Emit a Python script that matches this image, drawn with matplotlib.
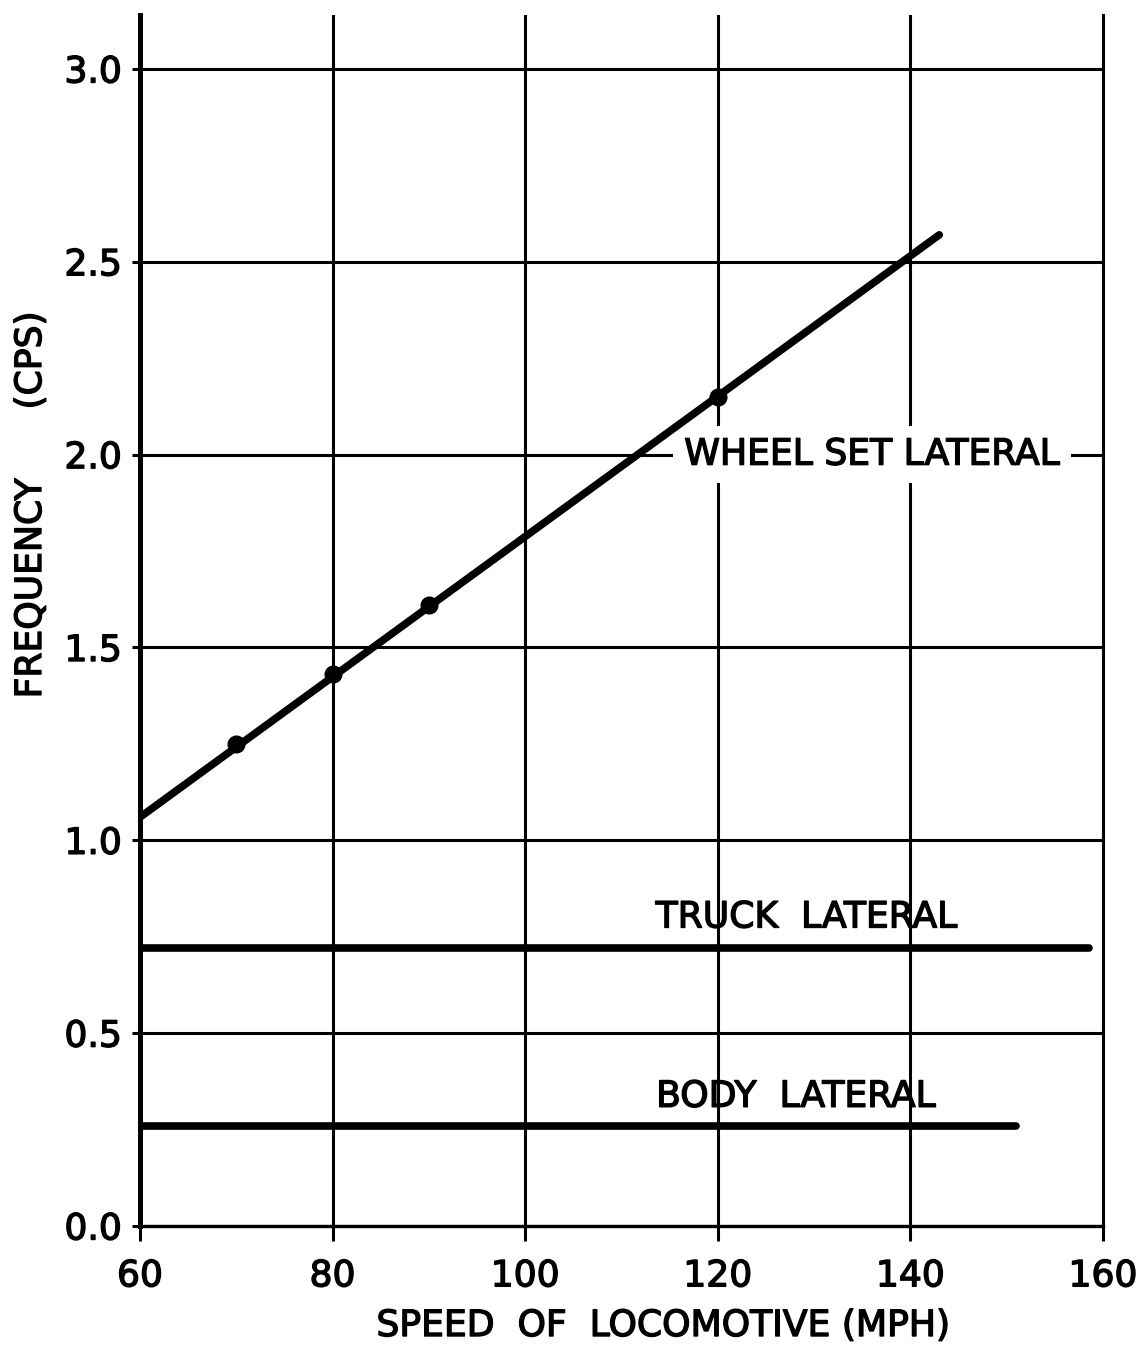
import matplotlib.pyplot as plt
import matplotlib.patheffects as pe
import numpy as np


# measured points on the wheel set lateral curve
SPEED_PTS = [70, 80, 90, 120]
FREQ_PTS = [1.25, 1.43, 1.61, 2.15]

# fitted straight line through them
WHEEL_X = [60, 143]
WHEEL_Y = [1.06, 2.57]

# flat modes
TRUCK_X = [60, 158.5]
TRUCK_FREQ = 0.72
BODY_X = [60, 151]
BODY_FREQ = 0.26

X_TICKS = [60, 80, 100, 120, 140, 160]
Y_TICKS = [0.0, 0.5, 1.0, 1.5, 2.0, 2.5, 3.0]
Y_TICK_LABELS = ['0.0', '0.5', '1.0', '1.5', '2.0', '2.5', '3.0']

FONT = 'DejaVu Sans'
FS = 26
# slightly heavier strokes for the lettering
INK = [pe.withStroke(linewidth=1.0, foreground='black')]


def draw():
    plt.rcParams['font.family'] = FONT
    fig = plt.figure(figsize=(11.4, 13.47), dpi=100)
    ax = fig.add_axes([140 / 1140, 1 - 1226 / 1347, 963 / 1140, 1211 / 1347])

    ax.set_xlim(60, 160)
    ax.set_ylim(0, 3.14)

    ax.set_xticks(X_TICKS)
    ax.set_xticklabels([str(v) for v in X_TICKS])
    ax.set_yticks(Y_TICKS)
    ax.set_yticklabels(Y_TICK_LABELS)
    ax.grid(True, color='black', linewidth=2.2, zorder=1)
    ax.set_axisbelow(True)

    ax.tick_params(axis='x', direction='out', length=11, width=2.2,
                   pad=13, labelsize=FS)
    ax.tick_params(axis='y', direction='out', length=6, width=2.2,
                   pad=7, labelsize=FS)
    for lbl in ax.get_xticklabels() + ax.get_yticklabels():
        lbl.set_path_effects(INK)

    ax.spines['top'].set_visible(False)
    ax.spines['left'].set_linewidth(3.6)
    ax.spines['bottom'].set_linewidth(2.4)
    ax.spines['right'].set_linewidth(2.2)

    # wheel set lateral: line plus data points
    ax.plot(WHEEL_X, WHEEL_Y, color='black', linewidth=5.5,
            solid_capstyle='round', zorder=3)
    ax.plot(SPEED_PTS, FREQ_PTS, 'o', color='black', markersize=12, zorder=4)

    ax.plot(TRUCK_X, [TRUCK_FREQ] * 2, color='black', linewidth=5.5,
            solid_capstyle='round', zorder=3)
    ax.plot(BODY_X, [BODY_FREQ] * 2, color='black', linewidth=5.5,
            solid_capstyle='round', zorder=3)

    ax.text(136.0, 2.0, 'WHEEL SET LATERAL', fontsize=FS, ha='center',
            va='center', zorder=2, path_effects=INK,
            bbox=dict(facecolor='white', edgecolor='none', pad=8))
    ax.text(129.2, 0.80, 'TRUCK  LATERAL', fontsize=FS, ha='center',
            va='center', zorder=2, path_effects=INK)
    ax.text(128.1, 0.335, 'BODY  LATERAL', fontsize=FS, ha='center',
            va='center', zorder=2, path_effects=INK)

    fig.text(663 / 1140, 1 - 1326 / 1347, 'SPEED  OF  LOCOMOTIVE (MPH)',
             fontsize=FS, ha='center', va='center', path_effects=INK)
    fig.text(31 / 1140, 1 - 505 / 1347, 'FREQUENCY      (CPS)', fontsize=FS,
             rotation=90, ha='center', va='center', path_effects=INK)

    fig.savefig('out.png', dpi=100)


if __name__ == '__main__':
    draw()
